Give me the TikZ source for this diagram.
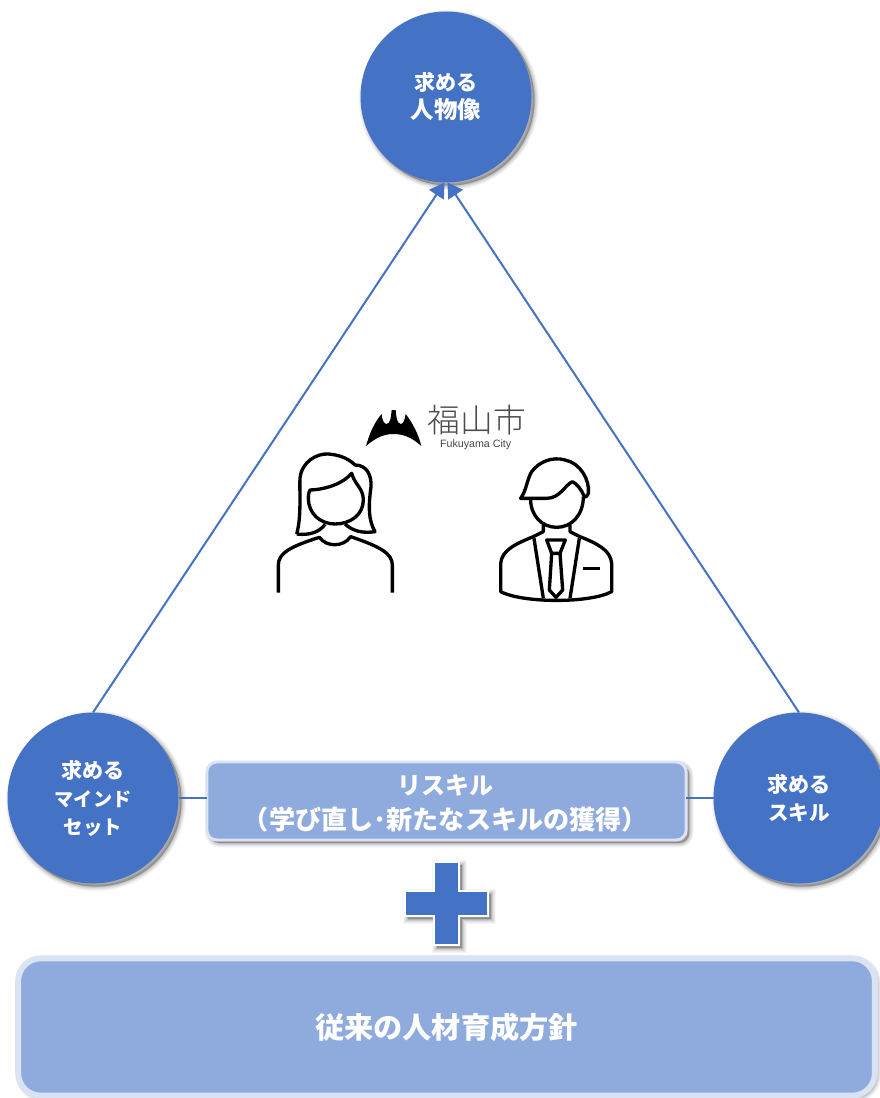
\documentclass[tikz,border=0pt]{standalone}
\usepackage{fontspec}
\setmainfont{Noto Sans CJK JP}
\newfontfamily\latinfont{Liberation Sans}
\newfontfamily\lightcjk{Noto Sans CJK JP Light}
\usetikzlibrary{arrows.meta}
\definecolor{mainblue}{HTML}{4472C4}
\definecolor{lightblue}{HTML}{8FAADC}
\definecolor{paleblue}{HTML}{DAE3F3}
\newcommand{\sized}[2]{{\fontsize{#1}{21pt}\selectfont #2}}
\tikzset{
  softshadow/.style={
    preaction={fill=black,draw=black,line width=7pt,opacity=.035,transform canvas={shift={(#1,#1)}}},
    preaction={fill=black,draw=black,line width=5.5pt,opacity=.045,transform canvas={shift={(#1,#1)}}},
    preaction={fill=black,draw=black,line width=4pt,opacity=.055,transform canvas={shift={(#1,#1)}}},
    preaction={fill=black,draw=black,line width=2.5pt,opacity=.07,transform canvas={shift={(#1,#1)}}},
    preaction={fill=black,draw=black,line width=1pt,opacity=.08,transform canvas={shift={(#1,#1)}}}},
  bigcircle/.style={circle,fill=mainblue,minimum size=128.25pt,inner sep=0pt,outer sep=0pt,text=white,align=center,
    font=\fontsize{15.8pt}{21pt}\selectfont\bfseries,softshadow=3},
  lightbox/.style={fill=lightblue,draw=paleblue,inner sep=0pt,outer sep=0pt,text=white,align=center},
  link/.style={draw=mainblue,line width=1.5pt},
  arrowlink/.style={link,-{Triangle[length=11pt,width=13pt]}},
  icon/.style={draw=black,line width=2.5pt,line join=round,fill=none}
}
\begin{document}
\begin{tikzpicture}[x=0.75pt,y=-0.75pt]
\useasboundingbox (0,0) rectangle (880,1098);
\fill[white] (0,0) rectangle (880,1098);

\node[bigcircle] (top) at (446,97) {求める\\\sized{17.6pt}{人物像}};
\node[bigcircle] (mind) at (93,798) {求める\\\sized{14.4pt}{マインド}\\\sized{14.6pt}{セット}};
\node[bigcircle] (skill) at (799,798) {求める\\\sized{15.4pt}{スキル}};
\node[lightbox,line width=2.2pt,rounded corners=7.5pt,minimum width=359.5pt,minimum height=58.5pt,softshadow=3] (reskill) at (446.5,801) {};
\node[text=white,align=center,inner sep=0pt,font=\fontsize{19.6pt}{26.2pt}\selectfont\bfseries] (reskilltext) at (445.5,803)
  {\fontsize{18pt}{26.2pt}\selectfont リスキル\\\fontsize{19.6pt}{26.2pt}\selectfont（学び直し･新たなスキルの獲得）};

\draw[link,line width=1pt] (mind.east) -- (reskill.west |- mind.east);
\draw[link,line width=1pt] (reskill.east |- skill.west) -- (skill.west);
\draw[arrowlink] (mind.north) -- (top.269);
\draw[arrowlink] (skill.north) -- (top.271);

\path[fill=mainblue,draw=white,line width=1.2pt,softshadow=3]
  (434,862) -- (459,862) -- (459,891) -- (488,891) -- (488,916) -- (459,916) -- (459,945)
  -- (434,945) -- (434,916) -- (405,916) -- (405,891) -- (434,891) -- cycle;

\node[lightbox,line width=4.4pt,rounded corners=17pt,minimum width=642.5pt,minimum height=103pt,
  font=\fontsize{21.9pt}{26pt}\selectfont\bfseries,softshadow=2] (base) at (446.5,1027) {従来の人材育成方針};

\begin{scope}[shift={(260,390)},scale=0.33333]
  % logo
  \fill[black] (318,168) .. controls (330,125) and (345,95) .. (365,72)
    .. controls (366,90) and (372,102) .. (380,102)
    .. controls (392,100) and (393,80) .. (395,60) -- (407,60)
    .. controls (409,80) and (410,100) .. (422,102)
    .. controls (430,102) and (434,90) .. (437,72)
    .. controls (455,95) and (475,130) .. (484,168)
    .. controls (455,142) and (430,132) .. (400,132)
    .. controls (370,132) and (345,145) .. (318,168) -- cycle;
  \node[text=black!70,font=\lightcjk\fontsize{24.5pt}{24.5pt}\selectfont,inner sep=0pt] (logotext) at (650,90) {福山市};
  \node[text=black!72,font=\latinfont\fontsize{8pt}{9pt}\selectfont,inner sep=0pt] (logosub) at (647,165) {Fukuyama City};
  % woman
  \draw[icon] (110,432) .. controls (125,380) and (118,300) .. (120,265)
    .. controls (125,215) and (170,190) .. (205,192)
    .. controls (245,195) and (270,210) .. (285,225)
    .. controls (320,225) and (335,255) .. (333,290)
    .. controls (325,350) and (325,390) .. (345,425)
    .. controls (310,430) and (280,425) .. (255,402);
  \draw[icon] (110,432) .. controls (150,437) and (180,425) .. (195,403);
  \draw[icon] (150,300) .. controls (200,298) and (250,280) .. (275,250)
    .. controls (285,285) and (310,295) .. (310,330)
    .. controls (310,375) and (270,402) .. (225,402)
    .. controls (180,402) and (145,370) .. (145,325)
    .. controls (145,312) and (147,305) .. (150,300) -- cycle;
  \draw[icon] (55,608) -- (55,525) .. controls (55,490) and (90,470) .. (178,442)
    .. controls (200,472) and (250,472) .. (272,440)
    .. controls (360,470) and (397,490) .. (397,525) -- (397,608);
  % man
  \draw[icon] (782,325) .. controls (800,300) and (800,270) .. (815,245)
    .. controls (840,212) and (880,200) .. (915,210)
    .. controls (960,218) and (990,270) .. (985,310)
    .. controls (982,318) and (975,325) .. (972,318)
    .. controls (965,300) and (950,280) .. (937,275)
    .. controls (915,285) and (900,325) .. (860,325) -- cycle;
  \draw[icon] (812,325) .. controls (810,375) and (845,412) .. (890,412)
    .. controls (935,412) and (970,375) .. (970,320);
  \draw[icon] (850,405) -- (850,425) -- (820,440)
    .. controls (770,460) and (725,480) .. (722,520) -- (722,605)
    .. controls (790,640) and (990,640) .. (1055,605) -- (1055,520)
    .. controls (1052,480) and (1010,460) .. (960,440) -- (930,425) -- (930,405);
  \draw[icon] (822,445) -- (850,625);
  \draw[icon] (958,445) -- (930,625);
  \draw[icon] (860,450) -- (916,450) -- (900,490) -- (875,490) -- cycle;
  \draw[icon] (875,490) -- (868,600) -- (888,622) -- (908,600) -- (900,490);
  \draw[icon] (970,536) -- (1020,536);
\end{scope}
\end{tikzpicture}
\end{document}
